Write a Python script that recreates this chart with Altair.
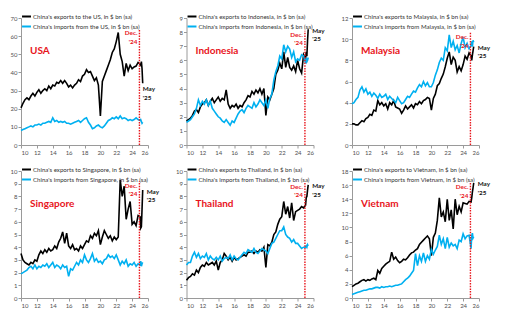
import altair as alt
import pandas as pd

# time axis: quarterly 2010-2024, monthly Jan-May 2025 (years as 10..25.33)
X = [10 + i * 0.25 for i in range(60)] + [25.0, 25.083, 25.167, 25.25, 25.333]

COUNTRIES = ["USA", "Indonesia", "Malaysia", "Singapore", "Thailand", "Vietnam"]
EXPORT_LABELS = [
    "China's exports to the US, in $ bn (sa)",
    "China's exports to Indonesia, in $ bn (sa)",
    "China's exports to Malaysia, in $ bn (sa)",
    "China's exports to Singapore, in $ bn (sa)",
    "China's exports to Thailand, in $ bn (sa)",
    "China's exports to Vietnam, in $ bn (sa)",
]
IMPORT_LABELS = [
    "China's imports from the US, in $ bn (sa)",
    "China's imports from Indonesia, in $ bn (sa)",
    "China's imports from Malaysia, in $ bn (sa)",
    "China's imports from Singapore, in $ bn (sa)",
    "China's imports from Thailand, in $ bn (sa)",
    "China's imports from Vietnam, in $ bn (sa)",
]
Y_MAX = [70, 9, 12, 10, 10, 18]
Y_STEP = [10, 1, 2, 1, 1, 2]
DEC_X = 24.92
DEC_TOP = [64, 8.1, 10.6, 9.2, 9.1, 16.3]
DEC_TEXT = "Dec.\n'24"
MAY_TEXT = "May\n'25"
MAY_BELOW = [True, False, False, False, False, False]

USA_EXP = [20.5, 23, 25, 26, 25, 27, 28.5, 27, 29, 30.5, 28.5, 30, 31, 30, 32.5, 31,
           33, 32.5, 34.5, 34, 35.5, 34, 35.5, 34, 32, 33, 31.5, 33, 34, 36, 35, 38,
           39, 41.5, 40, 40.5, 38, 35.5, 37, 33, 16, 35, 38, 41, 44, 47, 51, 53,
           57, 62, 50, 46, 38, 45, 41, 44, 42, 43, 43.5, 45.5, 44.5, 44, 46, 42, 34]
USA_IMP = [8, 8.5, 9, 9.5, 10, 10.5, 10, 11, 11, 11.5, 11, 12, 12, 12.5, 13, 12.5,
           15, 13, 13.5, 12.5, 13, 12.5, 13, 12, 12, 11.5, 12, 12.5, 13, 13.5, 12.5, 13.5,
           14.5, 15, 12.5, 11, 9, 9.5, 10.5, 11, 10, 9.5, 10.5, 12, 13.5, 14, 15, 14.5,
           15.5, 14.5, 16, 14.5, 15, 14.5, 13.5, 14, 13.5, 14, 15, 14, 13.5, 14, 13, 12, 12.5]
IDN_EXP = [1.7, 1.8, 1.9, 2.1, 2.4, 2.5, 2.3, 2.7, 2.9, 3.0, 3.2, 2.8, 3.1, 3.3, 3.0, 3.2,
           3.4, 3.1, 3.3, 3.2, 3.9, 2.9, 2.6, 2.8, 2.7, 2.9, 2.6, 2.8, 2.7, 3.0, 3.2, 3.5,
           3.4, 3.8, 3.6, 3.9, 3.7, 4.0, 3.6, 4.0, 2.1, 3.4, 3.2, 3.6, 4.0, 5.0, 5.3, 5.8,
           5.4, 6.6, 5.5, 6.2, 5.5, 5.3, 5.6, 5.2, 6.0, 5.4, 5.1, 6.4, 6.1, 6.6, 6.3, 7.4, 8.2]
IDN_IMP = [1.6, 1.7, 1.8, 2.0, 2.2, 2.6, 3.2, 2.8, 3.1, 2.9, 3.2, 2.8, 3.1, 2.6, 2.4, 2.2,
           2.0, 1.9, 1.7, 1.6, 1.8, 1.6, 1.4, 1.7, 1.6, 1.9, 2.2, 2.4, 2.5, 2.3, 2.6, 2.8,
           2.7, 2.6, 3.0, 2.7, 2.9, 3.2, 3.0, 2.8, 3.2, 2.6, 3.3, 3.6, 4.6, 5.2, 5.6, 6.3,
           6.1, 7.1, 6.6, 7.0, 6.8, 6.2, 6.6, 5.9, 6.1, 6.0, 6.4, 6.3, 5.8, 6.2, 5.9, 6.0, 6.2]
MYS_EXP = [2.0, 2.0, 1.9, 1.9, 2.1, 2.3, 2.2, 2.5, 2.6, 2.9, 2.8, 3.3, 3.2, 4.2, 3.8, 4.0,
           3.7, 3.9, 3.4, 4.0, 3.8, 4.2, 3.6, 3.5, 3.4, 3.0, 3.3, 3.7, 3.4, 3.6, 3.8, 3.5,
           3.9, 3.8, 4.1, 3.9, 4.2, 4.3, 4.5, 4.4, 3.3, 4.4, 4.8, 5.6, 5.8, 6.3, 6.7, 7.4,
           8.2, 8.8, 7.6, 8.3, 8.0, 6.9, 7.4, 7.0, 7.6, 8.4, 8.1, 8.7, 8.4, 8.0, 8.5, 8.9, 9.3]
MYS_IMP = [3.9, 4.0, 4.3, 4.5, 5.2, 5.5, 5.0, 5.3, 4.8, 5.0, 4.6, 4.9, 4.7, 4.4, 4.8, 4.5,
           4.6, 4.8, 4.3, 4.6, 4.4, 4.2, 4.0, 4.5, 4.2, 3.9, 4.0, 4.3, 4.6, 4.5, 4.8, 5.1,
           5.0, 5.4, 5.7, 5.5, 6.0, 5.6, 5.9, 5.5, 5.5, 5.9, 6.6, 7.1, 7.8, 8.2, 8.0, 9.2,
           8.9, 10.4, 9.2, 9.8, 9.0, 9.4, 8.7, 9.6, 10.2, 9.2, 9.6, 9.1, 9.4, 9.8, 9.3, 9.9, 9.7]
SGP_EXP = [3.5, 3.0, 2.8, 2.7, 2.6, 2.8, 2.7, 3.0, 2.9, 3.4, 3.7, 3.5, 3.8, 3.6, 3.9, 3.7,
           3.8, 4.1, 3.9, 4.4, 4.7, 5.2, 4.3, 5.1, 4.1, 3.9, 4.2, 3.8, 3.9, 3.7, 4.1, 3.9,
           4.2, 4.5, 4.4, 4.9, 4.7, 5.1, 4.9, 5.3, 4.2, 4.8, 5.3, 5.0, 4.7, 4.9, 4.5, 4.8,
           4.6, 4.8, 9.3, 8.0, 8.8, 6.2, 7.0, 7.6, 5.8, 6.0, 5.7, 6.5, 6.4, 5.5, 5.6, 7.0, 8.5]
SGP_IMP = [1.9, 2.0, 2.1, 2.2, 2.4, 2.5, 2.3, 2.6, 2.3, 2.5, 2.4, 2.6, 2.5, 2.7, 2.4, 2.6,
           2.8, 2.4, 2.6, 2.5, 2.3, 2.6, 2.4, 2.5, 1.7, 2.3, 2.2, 2.5, 2.8, 2.6, 3.0, 2.8,
           3.4, 3.0, 2.8, 3.1, 3.5, 2.9, 3.1, 2.8, 2.9, 2.7, 3.0, 3.1, 3.4, 3.2, 3.3, 3.1,
           3.4, 3.0, 2.6, 2.9, 2.7, 3.0, 2.5, 2.7, 2.6, 2.8, 2.5, 2.7, 2.6, 2.9, 2.5, 2.7, 2.8]
THA_EXP = [1.4, 1.6, 1.7, 1.9, 1.8, 2.2, 2.0, 2.4, 2.6, 2.5, 2.8, 2.6, 2.7, 2.8, 2.6, 2.9,
           2.2, 2.8, 3.0, 3.5, 3.3, 3.0, 3.2, 2.9, 3.2, 3.0, 3.1, 3.2, 3.3, 3.4, 3.3, 3.6,
           3.6, 3.7, 3.5, 3.7, 3.6, 3.8, 3.7, 4.0, 2.4, 4.2, 4.1, 4.4, 5.0, 5.2, 5.8, 6.2,
           6.4, 7.6, 6.6, 7.2, 6.3, 7.5, 6.1, 6.8, 6.9, 7.0, 7.2, 7.1, 7.3, 7.9, 8.0, 8.5, 8.9]
THA_IMP = [2.6, 2.8, 2.8, 3.3, 3.6, 3.2, 3.5, 3.1, 3.3, 3.2, 3.5, 3.0, 3.3, 3.1, 3.0, 3.2,
           3.0, 3.3, 2.9, 3.1, 3.2, 3.1, 3.4, 3.0, 3.3, 3.1, 3.0, 3.2, 3.4, 3.6, 3.5, 3.8,
           3.7, 3.6, 3.9, 3.6, 3.5, 3.7, 3.9, 3.8, 3.7, 3.5, 3.9, 4.3, 4.4, 4.7, 5.0, 5.3,
           5.3, 5.6, 5.0, 4.8, 4.7, 4.4, 4.6, 4.3, 4.3, 4.1, 3.9, 4.0, 4.0, 4.1, 4.0, 4.2, 4.1]
VNM_EXP = [1.6, 1.8, 2.0, 2.1, 2.3, 2.5, 2.6, 2.4, 2.6, 2.5, 2.7, 2.8, 2.6, 3.9, 3.5, 4.2,
           4.5, 4.8, 5.0, 5.2, 6.5, 5.5, 5.8, 5.3, 5.0, 5.2, 5.5, 5.4, 5.7, 6.1, 6.4, 6.5,
           6.8, 7.0, 7.6, 7.9, 8.2, 8.5, 8.8, 8.4, 6.0, 8.6, 9.2, 11.0, 14.2, 11.5, 12.2, 10.8,
           14.0, 11.0, 12.5, 9.8, 14.0, 11.8, 13.0, 12.2, 13.5, 13.4, 13.3, 13.7, 13.6, 14.2, 15.0, 15.6, 16.3]
VNM_IMP = [0.5, 0.6, 0.7, 0.8, 0.9, 1.0, 1.1, 1.1, 1.2, 1.3, 1.3, 1.4, 1.5, 1.5, 1.4, 1.6,
           1.5, 1.6, 1.6, 1.7, 1.6, 1.7, 1.8, 1.8, 1.9, 2.0, 2.3, 2.6, 2.8, 3.1, 3.5, 3.9,
           6.3, 4.6, 6.0, 5.2, 6.4, 5.2, 6.0, 5.5, 6.9, 6.2, 6.8, 7.3, 8.9, 7.6, 8.4, 7.0,
           8.6, 7.2, 7.8, 7.4, 7.6, 7.0, 8.2, 8.0, 9.1, 8.4, 8.8, 8.9, 7.0, 8.8, 9.2, 8.5, 8.7]

EXPORTS = [USA_EXP, IDN_EXP, MYS_EXP, SGP_EXP, THA_EXP, VNM_EXP]
IMPORTS = [USA_IMP, IDN_IMP, MYS_IMP, SGP_IMP, THA_IMP, VNM_IMP]

BLACK = "#000000"
BLUE = "#00B0F0"
RED = "#E8141B"
FONT = "Lato"
W, H = 127, 127


def panel(i):
    exp, imp = EXPORTS[i], IMPORTS[i]
    df = pd.DataFrame({
        "x": X + X,
        "v": exp + imp,
        "s": [EXPORT_LABELS[i]] * len(X) + [IMPORT_LABELS[i]] * len(X),
    })
    xs = alt.Scale(domain=[10, 26], nice=False, zero=False)
    ys = alt.Scale(domain=[0, Y_MAX[i]], nice=False)
    yvals = list(range(0, Y_MAX[i] + 1, Y_STEP[i]))
    xaxis = alt.Axis(values=list(range(10, 27, 2)), format="d", title=None, grid=False)
    yaxis = alt.Axis(values=yvals, format="d", title=None, grid=False,
                     minExtent=14, maxExtent=14)
    xenc = alt.X("x:Q", scale=xs, axis=xaxis)
    yenc = alt.Y("v:Q", scale=ys, axis=yaxis)
    lines = alt.Chart(df).mark_line(strokeWidth=1.6).encode(
        x=xenc,
        y=yenc,
        color=alt.Color(
            "s:N",
            scale=alt.Scale(domain=[EXPORT_LABELS[i], IMPORT_LABELS[i]], range=[BLACK, BLUE]),
            sort=[EXPORT_LABELS[i], IMPORT_LABELS[i]],
            legend=alt.Legend(
                title=None, orient="none", legendX=0, legendY=-7,
                symbolType="stroke", symbolSize=80, symbolStrokeWidth=2,
                labelFontSize=6.1, labelFont=FONT, labelColor="#333333",
                rowPadding=0, labelOffset=1, padding=0, labelLimit=250,
                direction="vertical",
            ),
        ),
    )
    rule = alt.Chart(pd.DataFrame({"x": [DEC_X], "v": [0], "v2": [DEC_TOP[i]]})).mark_rule(
        color=RED, strokeWidth=1.4, strokeDash=[1.5, 1.2]
    ).encode(x=xenc, y=yenc, y2="v2:Q")
    dec = alt.Chart(pd.DataFrame({"x": [DEC_X], "v": [DEC_TOP[i]], "t": [DEC_TEXT]})).mark_text(
        align="right", baseline="top", dx=-2, dy=1.5, lineBreak="\n", color=RED,
        fontSize=6.3, fontWeight="bold", font=FONT,
    ).encode(x=xenc, y=yenc, text="t:N")
    if MAY_BELOW[i]:
        may_mark = dict(align="left", baseline="top", dx=0, dy=3)
    else:
        may_mark = dict(align="left", baseline="middle", dx=4, dy=1.5)
    may = alt.Chart(pd.DataFrame({"x": [X[-1]], "v": [exp[-1]], "t": [MAY_TEXT]})).mark_text(
        lineBreak="\n", color="#111111", fontSize=6.3, fontWeight="bold", font=FONT, **may_mark
    ).encode(x=xenc, y=yenc, text="t:N")
    title = alt.TitleParams(
        text=COUNTRIES[i], anchor="start", orient="top", frame="group",
        color=RED, fontSize=10, fontWeight="bold", font=FONT,
        dx=9, dy=50, offset=0, baseline="middle",
    )
    return alt.layer(lines, rule, dec, may).properties(width=W, height=H, title=title)


chart = alt.concat(
    *[panel(i) for i in range(6)], columns=3,
    spacing=alt.RowColnumber(row=26, column=38.5), bounds="flush",
).resolve_scale(color="independent", x="independent", y="independent").resolve_legend(
    color="independent"
).properties(
    padding={"left": 7, "top": 11, "right": 0, "bottom": 0}
).configure_view(stroke=None).configure_axis(
    domainColor="#9A9A9A", tickColor="#9A9A9A", tickSize=3, labelFontSize=6,
    labelFont=FONT, labelColor="#505050", labelPadding=1, domainWidth=1,
)

chart.save("out.html", embed_options={"renderer": "svg", "actions": False})
